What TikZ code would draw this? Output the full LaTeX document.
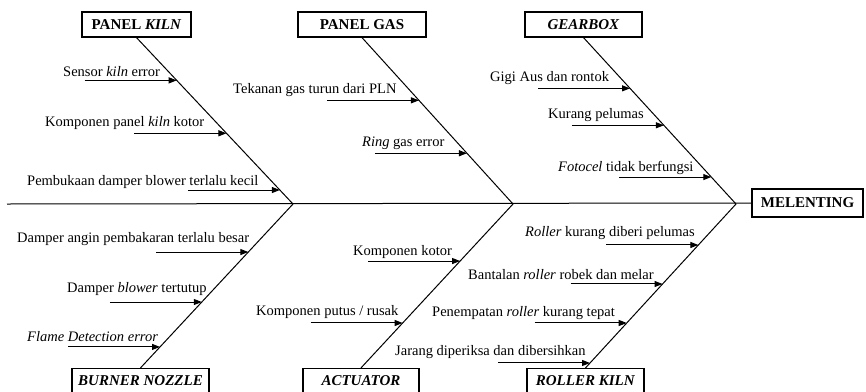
\documentclass[tikz,border=0pt]{standalone}
\usepackage{fontspec}
\setmainfont{Liberation Serif}
\usetikzlibrary{calc,arrows.meta}
\begin{document}
\begin{tikzpicture}[x=1pt,y=-1pt,
  title/.style={draw, line width=1.2pt, font=\bfseries\fontsize{15}{18}\selectfont, minimum height=25pt, inner sep=0pt},
  lab/.style={anchor=west, inner sep=0pt, font=\fontsize{14.5}{17}\selectfont},
  bone/.style={line width=1pt},
  arr/.style={line width=1pt, -{Triangle[length=8pt,width=6pt]}}]
\clip (0,0) rectangle (866,391);
\fill[white] (0,0) rectangle (866,391);
% boxes
\node[title, minimum width=109pt] (kiln) at (136.5,24.5) {PANEL \textit{KILN}};
\node[title, minimum width=128pt] (gas) at (362,24.5) {PANEL GAS};
\node[title, minimum width=117pt] (gear) at (583.5,24.5) {\textit{GEARBOX}};
\node[title, minimum width=137pt] (burn) at (140.5,381) {\textit{BURNER NOZZLE}};
\node[title, minimum width=116pt] (act) at (361,381) {\textit{ACTUATOR}};
\node[title, minimum width=117pt] (roll) at (585.5,381) {\textit{ROLLER KILN}};
\node[title, minimum width=111pt, minimum height=28pt] (mel) at (807.5,203) {MELENTING};
% spine and bones
\coordinate (s0) at (7,204);
\coordinate (j1) at (293,204);
\coordinate (j2) at (513,204);
\coordinate (j3) at (736,204);
\draw[bone] (s0) -- (mel.west);
\draw[bone] (kiln.south) -- (j1) -- (burn.north);
\draw[bone] (gas.south) -- (j2) -- (act.north);
\draw[bone] (gear.south) -- (j3) -- (roll.north);
% PANEL KILN causes
\coordinate (a1) at ($(kiln.south)!0.257!(j1)$);
\coordinate (a2) at ($(kiln.south)!0.575!(j1)$);
\coordinate (a3) at ($(kiln.south)!0.916!(j1)$);
\draw[arr] ([xshift=-92pt]a1) -- (a1);
\draw[arr] ([xshift=-92pt]a2) -- (a2);
\draw[arr] ([xshift=-92pt]a3) -- (a3);
\node[lab] (t1) at (63,72) {Sensor \textit{kiln} error};
\node[lab] (t2) at (45,123) {Komponen panel \textit{kiln} kotor};
\node[lab] (t3) at (27,182) {Pembukaan damper blower terlalu kecil};
% PANEL GAS causes
\coordinate (b1) at ($(gas.south)!0.377!(j2)$);
\coordinate (b2) at ($(gas.south)!0.695!(j2)$);
\draw[arr] ([xshift=-92pt]b1) -- (b1);
\draw[arr] ([xshift=-92pt]b2) -- (b2);
\node[lab] (t4) at (233,90) {Tekanan gas turun dari PLN};
\node[lab] (t5) at (362,143) {\textit{Ring} gas error};
% GEARBOX causes
\coordinate (c1) at ($(gear.south)!0.305!(j3)$);
\coordinate (c2) at ($(gear.south)!0.527!(j3)$);
\coordinate (c3) at ($(gear.south)!0.838!(j3)$);
\draw[arr] ([xshift=-92pt]c1) -- (c1);
\draw[arr] ([xshift=-92pt]c2) -- (c2);
\draw[arr] ([xshift=-92pt]c3) -- (c3);
\node[lab] (t6) at (490,78) {Gigi Aus dan rontok};
\node[lab] (t7) at (548,115) {Kurang pelumas};
\node[lab] (t8) at (558,168) {\textit{Fotocel} tidak berfungsi};
% BURNER NOZZLE causes
\coordinate (d1) at ($(j1)!0.293!(burn.north)$);
\coordinate (d2) at ($(j1)!0.598!(burn.north)$);
\coordinate (d3) at ($(j1)!0.872!(burn.north)$);
\draw[arr] ([xshift=-92pt]d1) -- (d1);
\draw[arr] ([xshift=-92pt]d2) -- (d2);
\draw[arr] ([xshift=-92pt]d3) -- (d3);
\node[lab] (t9) at (17,239) {Damper angin pembakaran terlalu besar};
\node[lab] (t10) at (67,289) {Damper \textit{blower} tertutup};
\node[lab] (t11) at (27,337) {\textit{Flame Detection error}};
% ACTUATOR causes
\coordinate (e1) at ($(j2)!0.348!(act.north)$);
\coordinate (e2) at ($(j2)!0.726!(act.north)$);
\draw[arr] ([xshift=-92pt]e1) -- (e1);
\draw[arr] ([xshift=-92pt]e2) -- (e2);
\node[lab] (t12) at (353,252) {Komponen kotor};
\node[lab] (t13) at (256,312) {Komponen putus / rusak};
% ROLLER KILN causes
\coordinate (f1) at ($(j3)!0.25!(roll.north)$);
\coordinate (f2) at ($(j3)!0.488!(roll.north)$);
\coordinate (f3) at ($(j3)!0.726!(roll.north)$);
\coordinate (f4) at ($(j3)!0.97!(roll.north)$);
\draw[arr] ([xshift=-92pt]f1) -- (f1);
\draw[arr] ([xshift=-92pt]f2) -- (f2);
\draw[arr] ([xshift=-92pt]f3) -- (f3);
\draw[arr] ([xshift=-92pt]f4) -- (f4);
\node[lab] (t14) at (525,233) {\textit{Roller} kurang diberi pelumas};
\node[lab] (t15) at (468,275) {Bantalan \textit{roller} robek dan melar};
\node[lab] (t16) at (432,313) {Penempatan \textit{roller} kurang tepat};
\node[lab] (t17) at (395,352) {Jarang diperiksa dan dibersihkan};
\end{tikzpicture}
\end{document}
